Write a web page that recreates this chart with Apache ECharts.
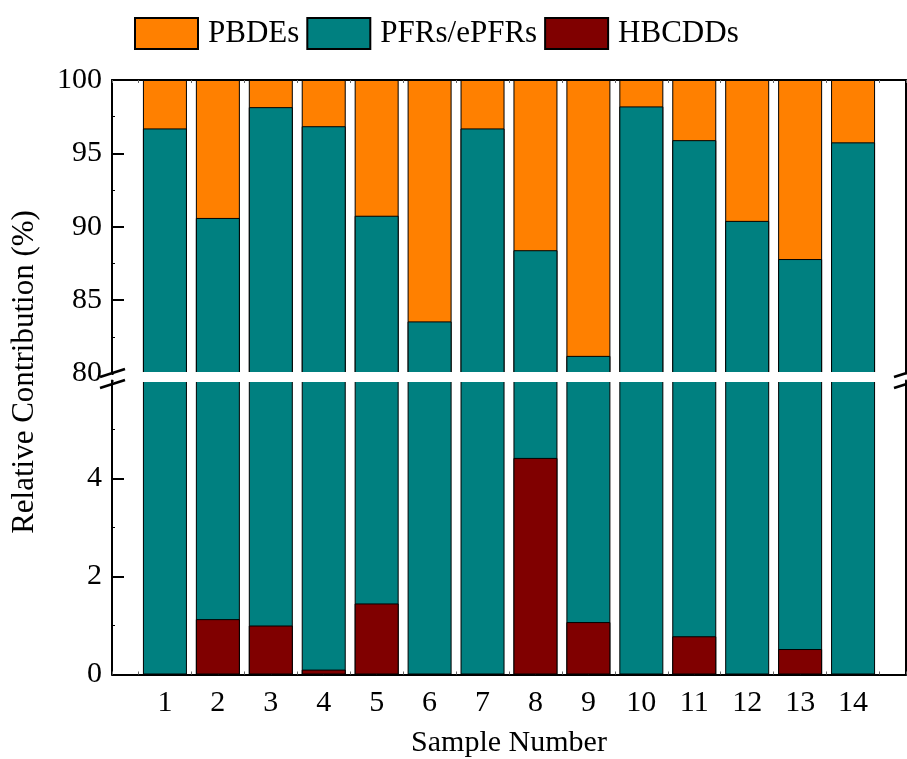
<!DOCTYPE html>
<html>
<head>
<meta charset="utf-8">
<script src="https://cdn.jsdelivr.net/npm/echarts@6/dist/echarts.min.js"></script>
<style>html,body{margin:0;padding:0;background:#fff;}#c{width:907px;height:759px;}</style>
</head>
<body>
<div id="c"></div>
<script>
var samples = [1,2,3,4,5,6,7,8,9,10,11,12,13,14];
var pbdes  = [3.3, 9.4, 1.85, 3.15, 9.25, 16.45, 3.3, 11.6, 18.8, 1.8, 4.1, 9.6, 12.2, 4.25];
var pfrs   = [96.7, 89.47, 97.15, 96.75, 89.3, 83.55, 96.7, 83.98, 80.13, 98.2, 95.12, 90.4, 87.28, 95.75];
var hbcdds = [0, 1.13, 1.0, 0.1, 1.45, 0, 0, 4.42, 1.07, 0, 0.78, 0, 0.52, 0];
var upperTicks = [80, 100, 5];
var lowerTicks = [0, 6, 2];
var seriesNames = ['PBDEs', 'PFRs/ePFRs', 'HBCDDs'];
var colors = {'PBDEs':'#FF8000', 'PFRs/ePFRs':'#008080', 'HBCDDs':'#800000'};

var FONT = 'Liberation Serif';
// cumulative tops of each stacked segment (bars are overlaid, largest first)
var cumH = hbcdds.slice();
var cumP = hbcdds.map(function(h,i){ return h + pfrs[i]; });
var cumB = cumP.map(function(p,i){ return p + pbdes[i]; });
function pairs(arr){ return samples.map(function(s,i){ return [s, arr[i]]; }); }

function barSeries(name, arr, xi, yi){
  return {
    type:'bar', name:name, data:pairs(arr), xAxisIndex:xi, yAxisIndex:yi,
    barWidth:44, barGap:'-100%', clip:true,
    itemStyle:{color:colors[name], borderColor:'#000', borderWidth:1},
    emphasis:{disabled:true}, animation:false
  };
}

var axisLine = {show:true, onZero:false, lineStyle:{color:'#000', width:2}};

var chart = echarts.init(document.getElementById('c'));
chart.setOption({
  animation:false,
  backgroundColor:'#fff',
  legend:{
    data:seriesNames, left:129, top:12, itemWidth:63, itemHeight:31, itemGap:7,
    icon:'rect', selectedMode:false,
    textStyle:{fontFamily:FONT, fontSize:31, color:'#000', padding:[0,0,0,5]}
  },
  grid:[
    {left:112, right:1, top:80, height:293.5, containLabel:false, outerBoundsMode:'none'},
    {left:112, right:1, top:380.5, height:294, containLabel:false, outerBoundsMode:'none'}
  ],
  xAxis:[
    {type:'value', gridIndex:0, position:'top', min:0, max:15, interval:1,
     axisLine:axisLine, axisLabel:{show:false}, splitLine:{show:false},
     axisTick:{show:true, inside:true, length:3, lineStyle:{color:'#666', width:1}},
     minorTick:{show:true, splitNumber:2, length:3, lineStyle:{color:'#666', width:1}}},
    {type:'value', gridIndex:1, position:'bottom', min:0, max:15, interval:1,
     axisLine:axisLine, splitLine:{show:false},
     axisTick:{show:true, inside:true, length:3, lineStyle:{color:'#666', width:1}},
     minorTick:{show:true, splitNumber:2, length:3, lineStyle:{color:'#666', width:1}},
     axisLabel:{margin:14, fontFamily:FONT, fontSize:30, color:'#000',
       formatter:function(v){ return (v>=1 && v<=14) ? String(v) : ''; }},
     name:'Sample Number', nameLocation:'middle', nameGap:54,
     nameTextStyle:{fontFamily:FONT, fontSize:30, color:'#000'}}
  ],
  yAxis:[
    {type:'value', gridIndex:0, position:'left', min:upperTicks[0], max:upperTicks[1], interval:upperTicks[2],
     axisLine:axisLine, splitLine:{show:false},
     axisTick:{show:true, inside:true, length:12, lineStyle:{color:'#000', width:2}},
     minorTick:{show:true, splitNumber:2, length:3, lineStyle:{color:'#000', width:1}},
     axisLabel:{margin:10, fontFamily:FONT, fontSize:30, color:'#000'}},
    {type:'value', gridIndex:0, position:'right', min:upperTicks[0], max:upperTicks[1], interval:upperTicks[2],
     axisLine:axisLine, splitLine:{show:false}, axisTick:{show:false}, axisLabel:{show:false}},
    {type:'value', gridIndex:1, position:'left', min:lowerTicks[0], max:lowerTicks[1], interval:lowerTicks[2],
     axisLine:axisLine, splitLine:{show:false},
     axisTick:{show:true, inside:true, length:12, lineStyle:{color:'#000', width:2}},
     minorTick:{show:true, splitNumber:2, length:3, lineStyle:{color:'#000', width:1}},
     axisLabel:{margin:10, fontFamily:FONT, fontSize:30, color:'#000',
       formatter:function(v){ return v >= lowerTicks[1] ? '' : String(v); }}},
    {type:'value', gridIndex:1, position:'right', min:lowerTicks[0], max:lowerTicks[1], interval:lowerTicks[2],
     axisLine:axisLine, splitLine:{show:false}, axisTick:{show:false}, axisLabel:{show:false}}
  ],
  series:[
    barSeries('PBDEs', cumB, 0, 0),
    barSeries('PFRs/ePFRs', cumP, 0, 0),
    barSeries('PFRs/ePFRs', cumP, 1, 2),
    barSeries('HBCDDs', cumH, 1, 2)
  ],
  graphic:[
    {type:'rect', z:100, silent:true, shape:{x:113.5, y:372, width:791, height:10}, style:{fill:'#fff'}},
    {type:'line', z:101, silent:true, shape:{x1:100, y1:377, x2:125, y2:369}, style:{stroke:'#000', lineWidth:2.5}},
    {type:'line', z:101, silent:true, shape:{x1:100, y1:388, x2:125, y2:380}, style:{stroke:'#000', lineWidth:2.5}},
    {type:'line', z:101, silent:true, shape:{x1:894, y1:377, x2:919, y2:369}, style:{stroke:'#000', lineWidth:2.5}},
    {type:'line', z:101, silent:true, shape:{x1:894, y1:388, x2:919, y2:380}, style:{stroke:'#000', lineWidth:2.5}},
    {type:'text', z:101, silent:true, x:25, y:372, rotation:Math.PI/2,
     style:{text:'Relative Contribution (%)', fontFamily:FONT, fontSize:31, fill:'#000', align:'center', verticalAlign:'middle'}}
  ]
});
</script>
</body>
</html>
